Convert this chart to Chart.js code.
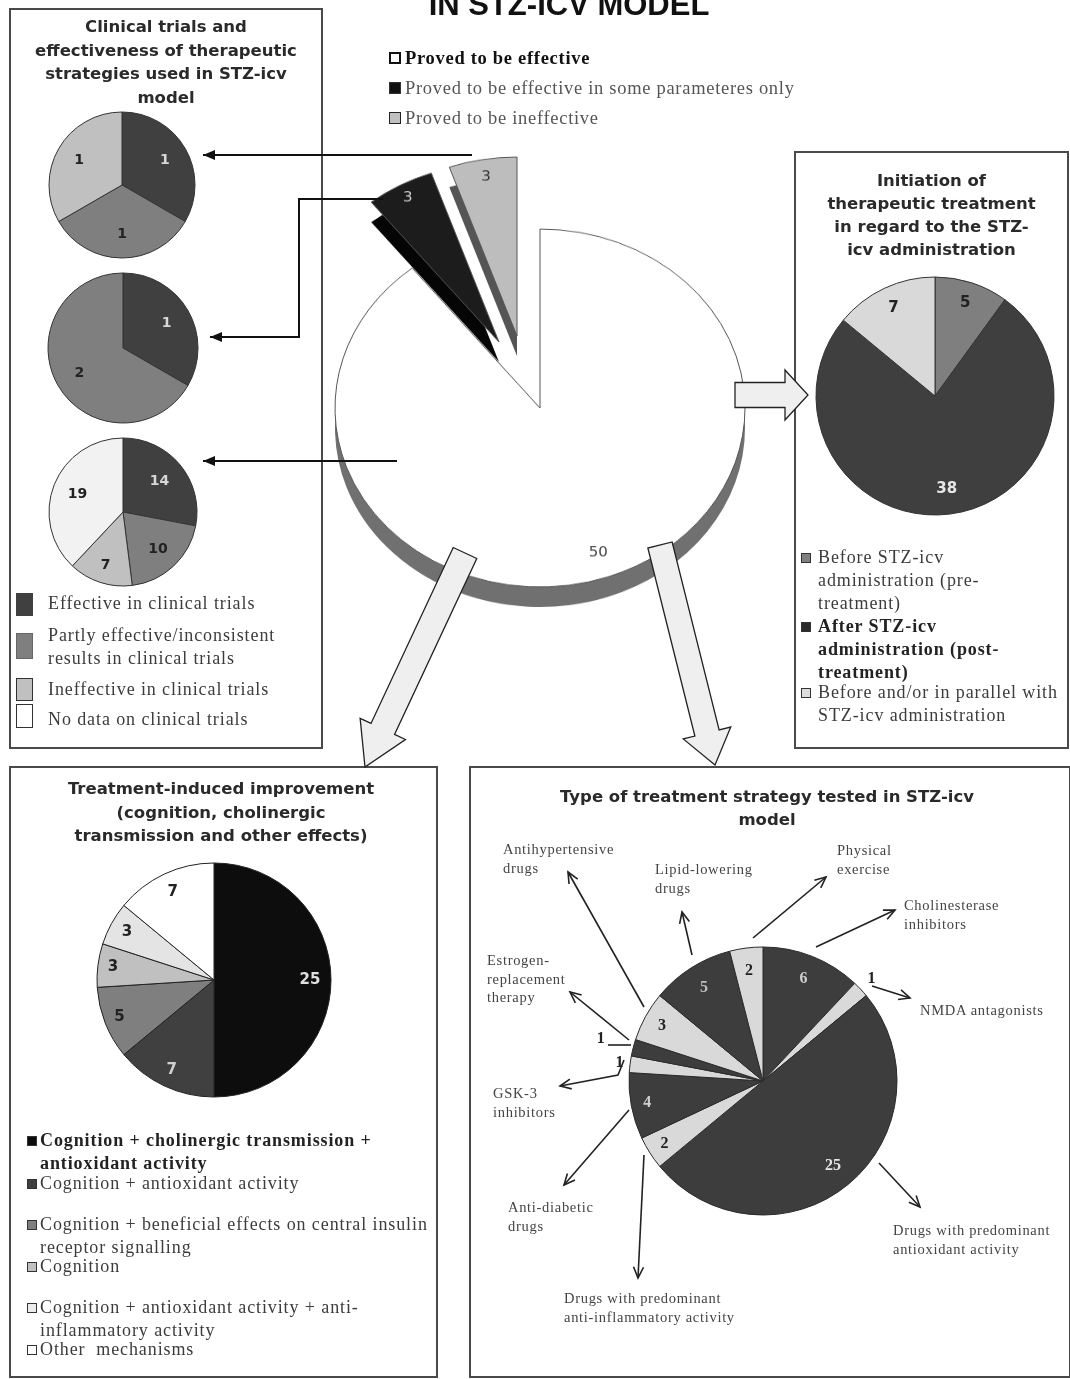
<!DOCTYPE html>
<html>
<head>
<meta charset="utf-8">
<script src="https://cdn.jsdelivr.net/npm/chart.js@4.4.1/dist/chart.umd.min.js"></script>
<style>
  html, body { margin: 0; padding: 0; background: #fff; }
  #page { position: relative; width: 1070px; height: 1379px; overflow: hidden; background: #fff;
          font-family: "Liberation Serif", "Times New Roman", serif; color: #3c3c3c; }
  .box { position: absolute; border: 2px solid #4a4a4a; box-sizing: border-box; }
  .title { position: absolute; font-family: "DejaVu Sans", sans-serif; font-weight: bold; font-size: 16.5px;
           line-height: 23.5px; text-align: center; color: #2a2a2a; z-index: 4; }
  canvas { position: absolute; }
  .txt { position: absolute; white-space: nowrap; z-index: 4; }
  .mk { position: absolute; box-sizing: border-box; border: 1px solid #333; z-index: 4; }
  .lg { font-size: 18px; line-height: 23px; letter-spacing: 0.9px; }
  .top { font-size: 18.5px; line-height: 24px; letter-spacing: 0.7px; }
  .note { font-size: 14.5px; line-height: 18.5px; letter-spacing: 0.7px; color: #444; }
  #overlay { position: absolute; left: 0; top: 0; z-index: 3; pointer-events: none; }
</style>
</head>
<body>
<div id="page">
  <!-- headline, cut at the top edge -->
  <div class="txt" style="left:0;width:1138px;text-align:center;top:-11px;font-family:'Liberation Sans',Arial,sans-serif;font-weight:bold;font-size:31px;line-height:31px;color:#111">IN STZ-ICV MODEL</div>

  <!-- top legend -->
  <div class="mk" style="left:389px;top:52px;width:12px;height:12px;border:2.5px solid #111;background:#fff"></div>
  <div class="txt top" style="left:405px;top:46px;font-weight:bold;color:#111">Proved to be effective</div>
  <div class="mk" style="left:389px;top:82px;width:12px;height:12px;background:#111"></div>
  <div class="txt top" style="left:405px;top:76px;color:#555">Proved to be effective in some parameteres only</div>
  <div class="mk" style="left:389px;top:112px;width:12px;height:12px;background:#c0c0c0;border:1.5px solid #222"></div>
  <div class="txt top" style="left:405px;top:106px;color:#555">Proved to be ineffective</div>

  <!-- left box -->
  <div class="box" style="left:9px;top:8px;width:314px;height:741px"></div>
  <div class="title" style="left:9px;top:15px;width:314px">Clinical trials and<br>effectiveness of therapeutic<br>strategies used in STZ-icv<br>model</div>
  <canvas id="pieIneffective" width="160" height="160" style="left:42px;top:105px"></canvas>
  <canvas id="piePartial" width="164" height="164" style="left:41px;top:266px"></canvas>
  <canvas id="pieEffective" width="162" height="162" style="left:42px;top:431px"></canvas>

  <div class="mk" style="left:16px;top:593px;width:17px;height:23px;background:#404040;border-color:#404040"></div>
  <div class="txt lg" style="left:48px;top:592px">Effective in clinical trials</div>
  <div class="mk" style="left:16px;top:633px;width:17px;height:26px;background:#7f7f7f;border-color:#666"></div>
  <div class="txt lg" style="left:48px;top:624px">Partly effective/inconsistent<br>results in clinical trials</div>
  <div class="mk" style="left:16px;top:678px;width:17px;height:23px;background:#c0c0c0"></div>
  <div class="txt lg" style="left:48px;top:678px">Ineffective in clinical trials</div>
  <div class="mk" style="left:16px;top:704px;width:17px;height:24px;background:#fff"></div>
  <div class="txt lg" style="left:48px;top:708px">No data on clinical trials</div>

  <!-- right box -->
  <div class="box" style="left:794px;top:151px;width:275px;height:598px"></div>
  <div class="title" style="left:794px;top:169px;width:275px;line-height:23px">Initiation of<br>therapeutic treatment<br>in regard to the STZ-<br>icv administration</div>
  <canvas id="pieTiming" width="260" height="260" style="left:805px;top:266px"></canvas>
  <div class="mk" style="left:801px;top:553px;width:10px;height:10px;background:#7f7f7f"></div>
  <div class="txt lg" style="left:818px;top:546px">Before STZ-icv<br>administration (pre-<br>treatment)</div>
  <div class="mk" style="left:801px;top:622px;width:10px;height:10px;background:#2a2a2a"></div>
  <div class="txt lg" style="left:818px;top:615px;font-weight:bold;color:#222">After STZ-icv<br>administration (post-<br>treatment)</div>
  <div class="mk" style="left:801px;top:688px;width:10px;height:10px;background:#dcdcdc"></div>
  <div class="txt lg" style="left:818px;top:681px">Before and/or in parallel with<br>STZ-icv administration</div>

  <!-- bottom left box -->
  <div class="box" style="left:9px;top:766px;width:429px;height:612px"></div>
  <div class="title" style="left:9px;top:777px;width:424px">Treatment-induced improvement<br>(cognition, cholinergic<br>transmission and other effects)</div>
  <canvas id="pieImprovement" width="260" height="260" style="left:84px;top:850px"></canvas>
  <div class="mk" style="left:27px;top:1136px;width:10px;height:10px;background:#0d0d0d"></div>
  <div class="txt lg" style="left:40px;top:1129px;font-weight:bold;color:#222">Cognition + cholinergic transmission +<br>antioxidant activity</div>
  <div class="mk" style="left:27px;top:1179px;width:10px;height:10px;background:#404040"></div>
  <div class="txt lg" style="left:40px;top:1172px">Cognition + antioxidant activity</div>
  <div class="mk" style="left:27px;top:1220px;width:10px;height:10px;background:#7f7f7f"></div>
  <div class="txt lg" style="left:40px;top:1213px">Cognition + beneficial effects on central insulin<br>receptor signalling</div>
  <div class="mk" style="left:27px;top:1262px;width:10px;height:10px;background:#c0c0c0"></div>
  <div class="txt lg" style="left:40px;top:1255px">Cognition</div>
  <div class="mk" style="left:27px;top:1303px;width:10px;height:10px;background:#ececec"></div>
  <div class="txt lg" style="left:40px;top:1296px">Cognition + antioxidant activity + anti-<br>inflammatory activity</div>
  <div class="mk" style="left:27px;top:1345px;width:10px;height:10px;background:#fff"></div>
  <div class="txt lg" style="left:40px;top:1338px">Other &nbsp;mechanisms</div>

  <!-- bottom right box -->
  <div class="box" style="left:469px;top:766px;width:602px;height:612px"></div>
  <div class="title" style="left:469px;top:785px;width:596px;line-height:23px">Type of treatment strategy tested in STZ-icv<br>model</div>
  <canvas id="pieStrategy" width="360" height="360" style="left:583px;top:901px"></canvas>
  <div class="txt note" style="left:503px;top:840px">Antihypertensive<br>drugs</div>
  <div class="txt note" style="left:655px;top:860px">Lipid-lowering<br>drugs</div>
  <div class="txt note" style="left:837px;top:841px">Physical<br>exercise</div>
  <div class="txt note" style="left:904px;top:896px">Cholinesterase<br>inhibitors</div>
  <div class="txt note" style="left:920px;top:1001px">NMDA antagonists</div>
  <div class="txt note" style="left:487px;top:951px">Estrogen-<br>replacement<br>therapy</div>
  <div class="txt note" style="left:493px;top:1084px">GSK-3<br>inhibitors</div>
  <div class="txt note" style="left:508px;top:1198px">Anti-diabetic<br>drugs</div>
  <div class="txt note" style="left:564px;top:1289px">Drugs with predominant<br>anti-inflammatory activity</div>
  <div class="txt note" style="left:893px;top:1221px">Drugs with predominant<br>antioxidant activity</div>

  <svg id="overlay" width="1070" height="1379" viewBox="0 0 1070 1379"></svg>
</div>

<script>
// ---- data ----
const overviewLabels = ['Proved to be effective', 'Proved to be effective in some parameteres only', 'Proved to be ineffective'];
const overviewValues = [50, 3, 3];

const trialLabels = ['Effective in clinical trials', 'Partly effective/inconsistent results in clinical trials',
                     'Ineffective in clinical trials', 'No data on clinical trials'];
const trialsIneffectiveGroup = [1, 1, 1, 0];
const trialsPartialGroup = [1, 2, 0, 0];
const trialsEffectiveGroup = [14, 10, 7, 19];

const timingLabels = ['Before STZ-icv administration (pre-treatment)', 'After STZ-icv administration (post-treatment)',
                      'Before and/or in parallel with STZ-icv administration'];
const timingValues = [5, 38, 7];

const improvementLabels = ['Cognition + cholinergic transmission + antioxidant activity', 'Cognition + antioxidant activity',
                           'Cognition + beneficial effects on central insulin receptor signalling', 'Cognition',
                           'Cognition + antioxidant activity + anti-inflammatory activity', 'Other mechanisms'];
const improvementValues = [25, 7, 5, 3, 3, 7];

const strategyLabels = ['Cholinesterase inhibitors', 'NMDA antagonists', 'Drugs with predominant antioxidant activity',
                        'Drugs with predominant anti-inflammatory activity', 'Anti-diabetic drugs', 'GSK-3 inhibitors',
                        'Estrogen-replacement therapy', 'Antihypertensive drugs', 'Lipid-lowering drugs', 'Physical exercise'];
const strategyValues = [6, 1, 25, 2, 4, 1, 1, 3, 5, 2];

// ---- colours ----
const DARK = '#404040', MID = '#7f7f7f', LIGHT = '#c0c0c0', PALE = '#f2f2f2';
const LABEL_ON_DARK = '#d8d8d8', LABEL_ON_LIGHT = '#222';
const NONE = 'rgba(0,0,0,0)';

// value labels drawn at a fraction of the radius for each slice
const sliceValues = (cfg) => ({
    id: 'sliceValues',
    afterDatasetsDraw(chart) {
        const ctx = chart.ctx;
        const data = chart.data.datasets[0].data;
        ctx.save();
        ctx.font = cfg.font || 'bold 14px "DejaVu Sans"';
        ctx.textAlign = 'center';
        ctx.textBaseline = 'middle';
        chart.getDatasetMeta(0).data.forEach((arc, i) => {
            const color = Array.isArray(cfg.color) ? cfg.color[i] : cfg.color;
            if (!data[i] || !color) return;
            const p = arc.getProps(['x', 'y', 'startAngle', 'endAngle', 'outerRadius'], true);
            const mid = (p.startAngle + p.endAngle) / 2;
            const k = Array.isArray(cfg.radius) ? cfg.radius[i] : cfg.radius;
            const r = p.outerRadius * k;
            ctx.fillStyle = color;
            ctx.fillText(String(data[i]), p.x + Math.cos(mid) * r, p.y + Math.sin(mid) * r);
        });
        ctx.restore();
    }
});

const makePie = (canvas, labels, values, dataset, radius, labelCfg) => new Chart(canvas, {
    type: 'pie',
    data: {
        labels: labels,
        datasets: [Object.assign({ data: values, borderColor: '#333', borderWidth: 1 }, dataset)]
    },
    options: {
        responsive: false,
        animation: false,
        events: [],
        radius: radius,
        plugins: { legend: { display: false }, tooltip: { enabled: false } }
    },
    plugins: labelCfg ? [sliceValues(labelCfg)] : []
});
const el = (id) => document.getElementById(id);

// ---- main overview pie: tilted, with a rim; two small slices pulled out ----
const page = el('page');
const MAIN_R = 205, MAIN_CX = 540, MAIN_CY = 408, TILT = 0.873, RIM = 20;
const pullOut = [[0, 0], [-41, -66], [-23, -72]];       // page px
const faceColors = ['#ffffff', '#1c1c1c', '#bdbdbd'];
const rimColors = ['#707070', '#050505', '#555555'];
const faceLabelColors = ['#444', '#cfcfcf', '#333'];
const faceLabelRadius = [0.86, 0.92, 0.9];

overviewValues.forEach((v, i) => {
    ['rim', 'face'].forEach((layer) => {
        const c = document.createElement('canvas');
        c.width = 450; c.height = 450;
        const dy = layer === 'rim' ? RIM : 0;
        c.style.left = (MAIN_CX - 225 + pullOut[i][0]) + 'px';
        c.style.top = (MAIN_CY - 225 + pullOut[i][1] + dy) + 'px';
        c.style.transform = `scaleY(${TILT})`;
        c.style.zIndex = layer === 'rim' ? 1 : 2;
        page.appendChild(c);
        const src = layer === 'rim' ? rimColors : faceColors;
        const fill = src.map((col, j) => j === i ? col : NONE);
        const widths = src.map((col, j) => (j === i && layer === 'face') ? 1 : 0);
        makePie(c, overviewLabels, overviewValues,
            { backgroundColor: fill, borderColor: '#555', borderWidth: widths }, MAIN_R,
            layer === 'face' ? { radius: faceLabelRadius, color: faceLabelColors.map((col, j) => j === i ? col : null),
                                 font: '15px "DejaVu Sans"' } : null);
    });
});

// clinical trial pies
const trialColors = [DARK, MID, LIGHT, PALE];
makePie(el('pieIneffective'), trialLabels, trialsIneffectiveGroup, { backgroundColor: trialColors }, 73,
    { radius: 0.68, color: [LABEL_ON_DARK, LABEL_ON_LIGHT, LABEL_ON_LIGHT, LABEL_ON_LIGHT] });
makePie(el('piePartial'), trialLabels, trialsPartialGroup, { backgroundColor: trialColors }, 75,
    { radius: 0.67, color: [LABEL_ON_DARK, LABEL_ON_LIGHT, LABEL_ON_LIGHT, LABEL_ON_LIGHT] });
makePie(el('pieEffective'), trialLabels, trialsEffectiveGroup, { backgroundColor: trialColors }, 74,
    { radius: [0.64, 0.69, 0.76, 0.66], color: [LABEL_ON_DARK, LABEL_ON_LIGHT, LABEL_ON_LIGHT, LABEL_ON_LIGHT] });

// timing pie
makePie(el('pieTiming'), timingLabels, timingValues, { backgroundColor: [MID, '#3f3f3f', '#d9d9d9'] }, 119,
    { radius: [0.82, 0.79, 0.82], color: [LABEL_ON_LIGHT, '#e8e8e8', LABEL_ON_LIGHT], font: 'bold 15px "DejaVu Sans"' });

// improvement pie
makePie(el('pieImprovement'), improvementLabels, improvementValues,
    { backgroundColor: ['#0d0d0d', DARK, MID, LIGHT, '#e4e4e4', '#ffffff'], borderColor: '#222' }, 117,
    { radius: [0.82, 0.85, 0.87, 0.87, 0.85, 0.83],
      color: ['#e0e0e0', '#d0d0d0', LABEL_ON_LIGHT, LABEL_ON_LIGHT, LABEL_ON_LIGHT, LABEL_ON_LIGHT],
      font: 'bold 15px "DejaVu Sans"' });

// strategy pie
const S_DARK = '#3d3d3d', S_LIGHT = '#d9d9d9';
makePie(el('pieStrategy'), strategyLabels, strategyValues,
    { backgroundColor: [S_DARK, S_LIGHT, S_DARK, S_LIGHT, S_DARK, S_LIGHT, S_DARK, S_LIGHT, S_DARK, S_LIGHT], borderColor: '#2a2a2a' }, 134,
    { radius: [0.82, 1.11, 0.82, 0.87, 0.88, 1.08, 1.25, 0.86, 0.82, 0.83],
      color: ['#cfcfcf', '#222', '#e6e6e6', '#222', '#cfcfcf', '#222', '#222', '#222', '#bdbdbd', '#222'],
      font: 'bold 16px "Liberation Serif"' });

// ---- connectors and arrows (decoration) ----
const svg = el('overlay');
const add = (tag, attrs) => {
    const node = document.createElementNS('http://www.w3.org/2000/svg', tag);
    for (const k in attrs) node.setAttribute(k, attrs[k]);
    svg.appendChild(node);
    return node;
};

const lineArrow = (pts, opts) => {
    const o = Object.assign({ color: '#111', width: 2, len: 12, half: 5, filled: true }, opts);
    add('polyline', { points: pts.map(p => p.join(',')).join(' '), fill: 'none', stroke: o.color, 'stroke-width': o.width });
    const [x1, y1] = pts[pts.length - 2];
    const [x2, y2] = pts[pts.length - 1];
    const d = Math.hypot(x2 - x1, y2 - y1);
    const ux = (x2 - x1) / d, uy = (y2 - y1) / d;
    const bx = x2 - ux * o.len, by = y2 - uy * o.len;
    const a = [bx - uy * o.half, by + ux * o.half], b = [bx + uy * o.half, by - ux * o.half];
    if (o.filled) {
        add('polygon', { points: `${x2},${y2} ${a.join(',')} ${b.join(',')}`, fill: o.color });
    } else {
        add('polyline', { points: `${a.join(',')} ${x2},${y2} ${b.join(',')}`, fill: 'none', stroke: o.color, 'stroke-width': o.width });
    }
};

const blockArrow = (x1, y1, x2, y2, bw, hw, hl) => {
    const d = Math.hypot(x2 - x1, y2 - y1);
    const ux = (x2 - x1) / d, uy = (y2 - y1) / d;
    const nx = -uy, ny = ux;
    const nkx = x2 - ux * hl, nky = y2 - uy * hl;
    const pts = [
        [x1 + nx * bw / 2, y1 + ny * bw / 2],
        [nkx + nx * bw / 2, nky + ny * bw / 2],
        [nkx + nx * hw / 2, nky + ny * hw / 2],
        [x2, y2],
        [nkx - nx * hw / 2, nky - ny * hw / 2],
        [nkx - nx * bw / 2, nky - ny * bw / 2],
        [x1 - nx * bw / 2, y1 - ny * bw / 2]
    ];
    add('polygon', { points: pts.map(p => p.join(',')).join(' '), fill: '#efefef', stroke: '#222', 'stroke-width': 1.3 });
};

// main pie -> clinical trial pies
lineArrow([[472, 155], [203, 155]]);
lineArrow([[383, 199], [299, 199], [299, 337], [210, 337]]);
lineArrow([[397, 461], [203, 461]]);

// block arrows towards the other panels
blockArrow(735, 395, 808, 395, 25, 50, 23);
blockArrow(465, 553, 365, 767, 26, 50, 42);
blockArrow(660, 545, 715, 765, 25, 49, 33);

// strategy pie call-outs
const thin = { color: '#222', width: 1.6, len: 11, half: 5, filled: false };
lineArrow([[644, 1007], [568, 872]], thin);
lineArrow([[692, 955], [682, 912]], thin);
lineArrow([[753, 938], [826, 877]], thin);
lineArrow([[816, 947], [895, 910]], thin);
lineArrow([[872, 986], [910, 998]], thin);
lineArrow([[629, 1040], [570, 992]], thin);
add('line', { x1: 608, y1: 1045, x2: 631, y2: 1045, stroke: '#222', 'stroke-width': 1.6 });
lineArrow([[624, 1060], [618, 1075], [560, 1086]], thin);
lineArrow([[629, 1110], [564, 1185]], thin);
lineArrow([[644, 1155], [638, 1278]], thin);
lineArrow([[879, 1163], [920, 1207]], thin);
</script>
</body>
</html>
